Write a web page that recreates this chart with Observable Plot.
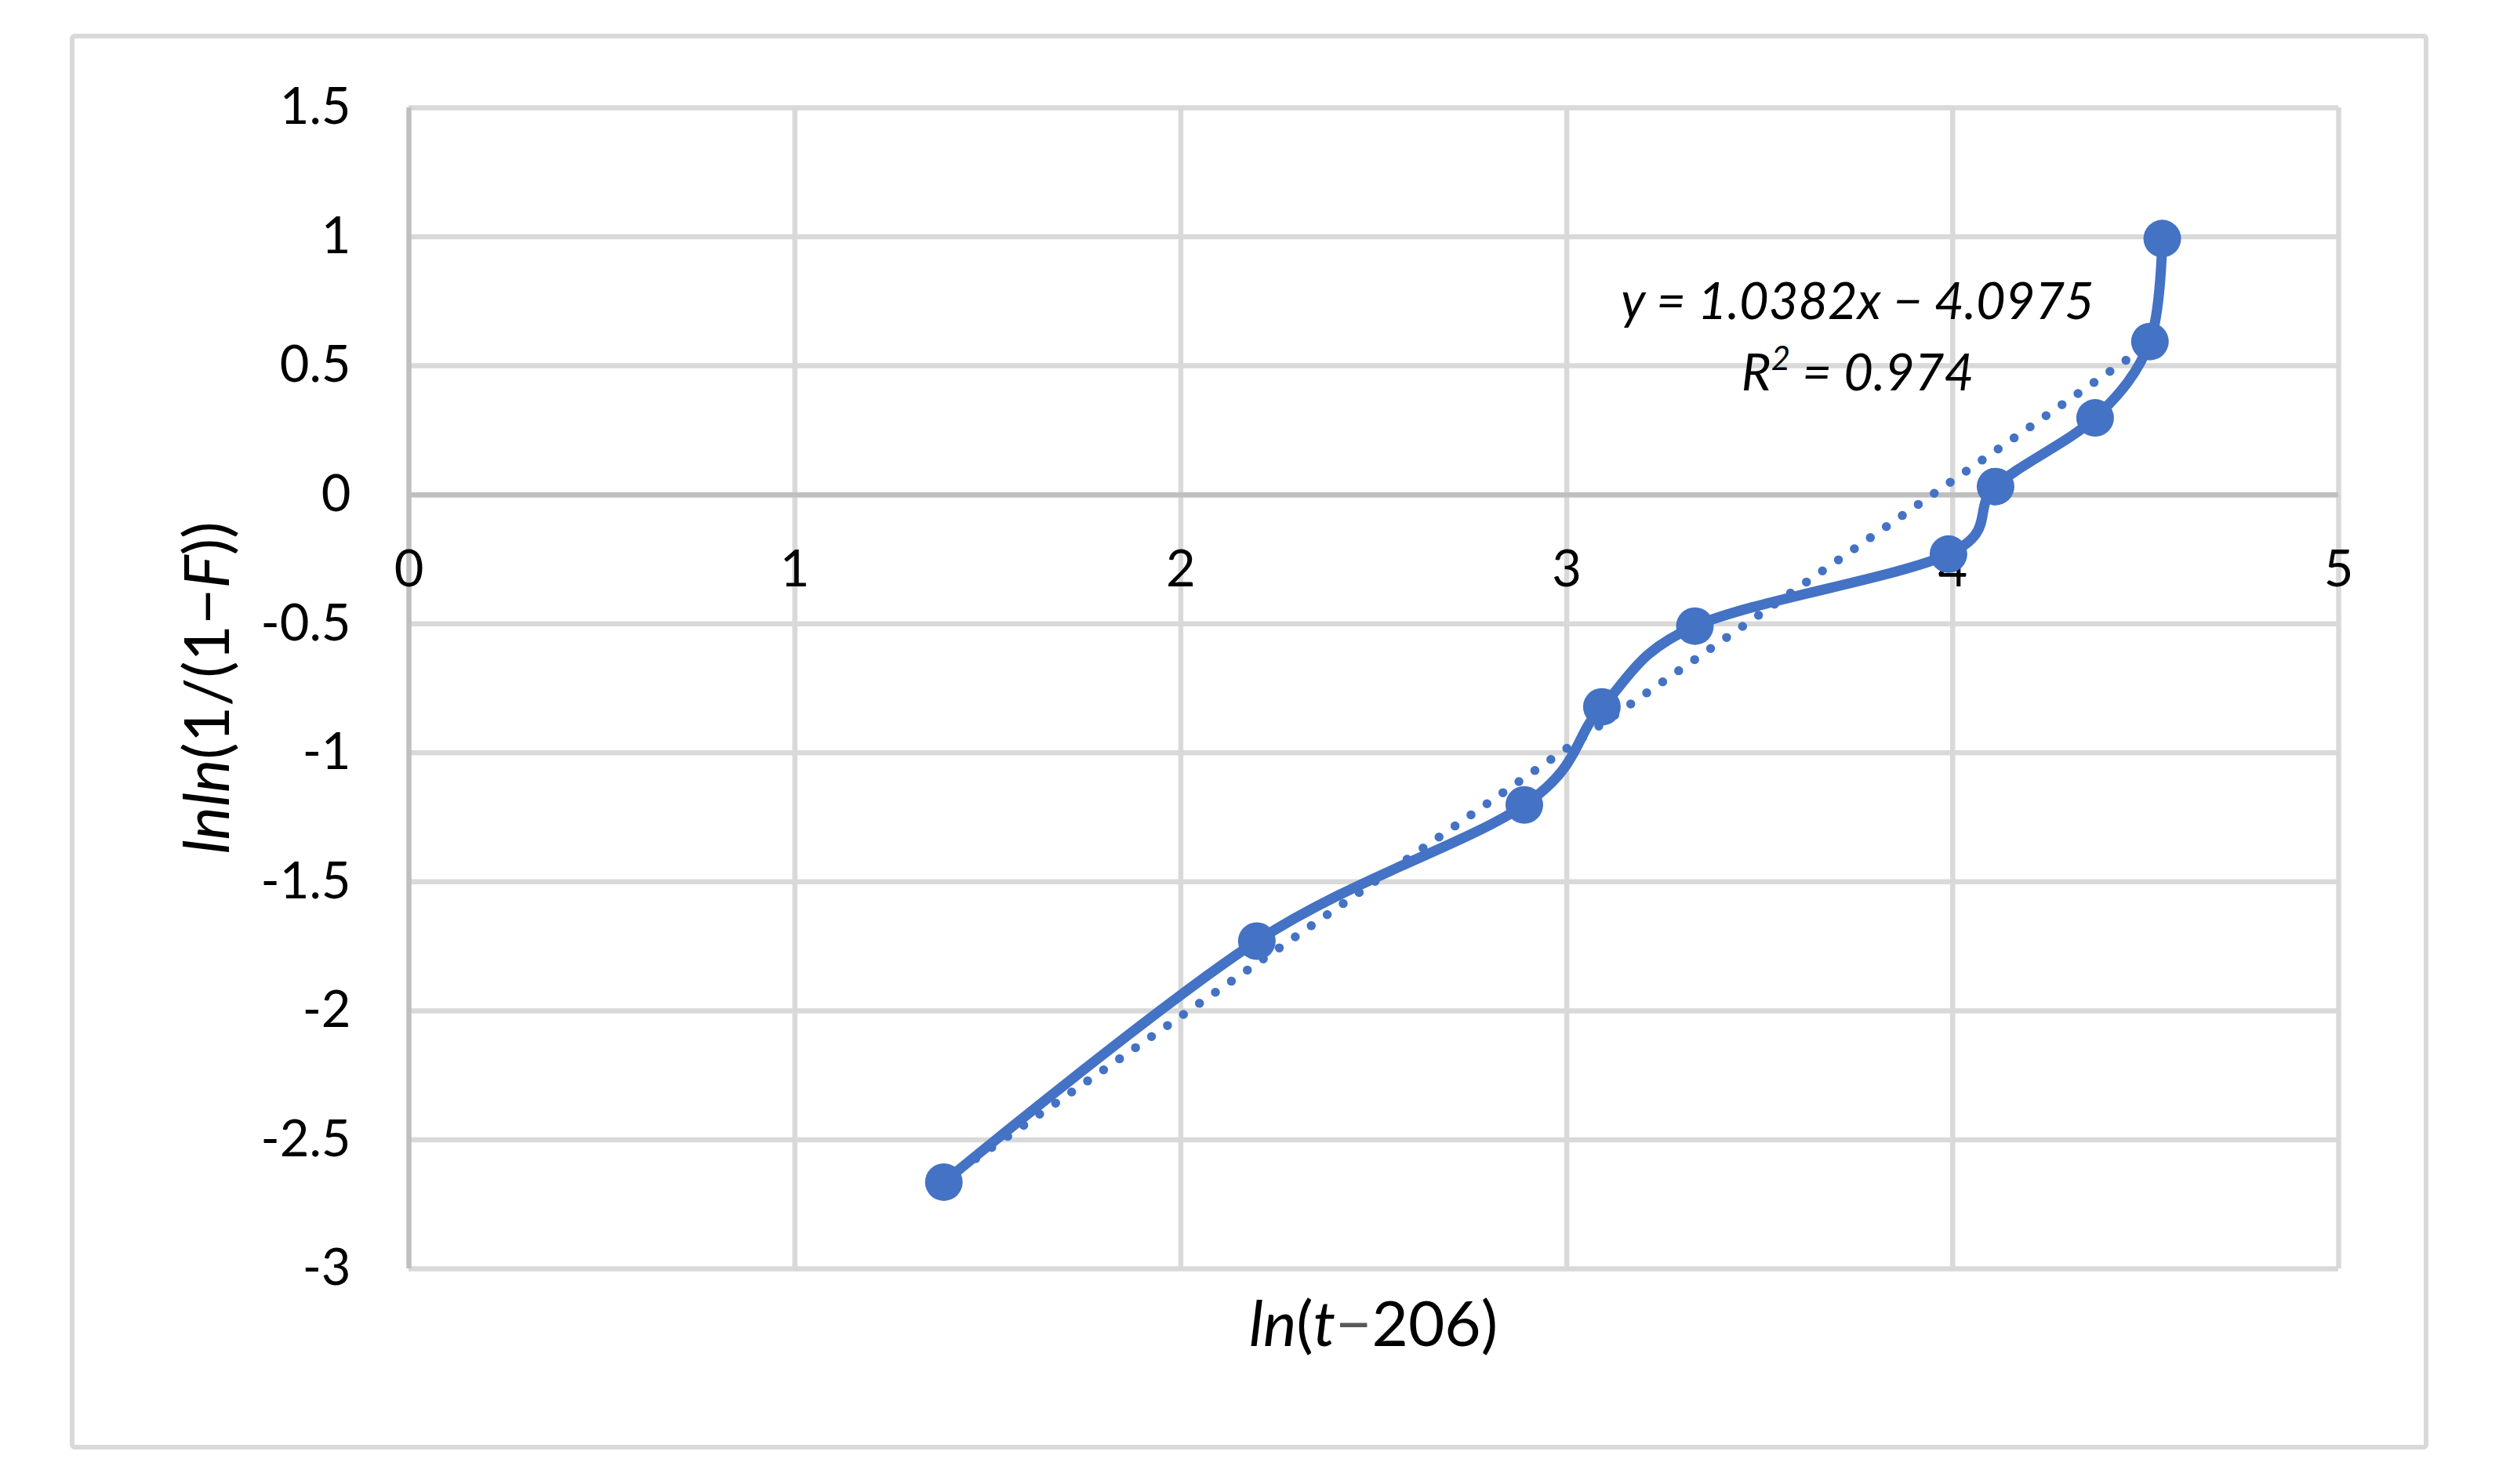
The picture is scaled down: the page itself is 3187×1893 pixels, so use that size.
<!DOCTYPE html>
<html><head><meta charset="utf-8">
<script src="https://cdn.jsdelivr.net/npm/d3@7"></script>
<script src="https://cdn.jsdelivr.net/npm/@observablehq/plot@0.6"></script>
<style>
html,body{margin:0;padding:0;background:#fff;}
#chart{position:relative;width:3187px;height:1893px;}
</style></head><body><div id="chart"></div>
<script>
// data
const lnT   = [1.386, 2.197, 2.890, 3.091, 3.332, 3.989, 4.111, 4.369, 4.511, 4.543];
const lnlnF = [-2.664, -1.73, -1.202, -0.822, -0.509, -0.23, 0.032, 0.298, 0.594, 0.993];
const xTicks = [0, 1, 2, 3, 4, 5];
const xTickLabels = ["0", "1", "2", "3", "4", "5"];
const yTicks = [1.5, 1, 0.5, 0, -0.5, -1, -1.5, -2, -2.5, -3];
const yTickLabels = ["1.5", "1", "0.5", "0", "-0.5", "-1", "-1.5", "-2", "-2.5", "-3"];
const trendSlope = 1.0382, trendIntercept = -4.0975;
const eqLabel = "y = 1.0382x − 4.0975";
const r2Value = "0.974";

const points = lnT.map((x, i) => ({x, y: lnlnF[i]}));
const trend = d3.extent(lnT).map(x => ({x, y: trendSlope * x + trendIntercept}));

const W = 3187, H = 1893;
const BLUE = "#4472C4", GRID = "#D9D9D9", AXIS = "#BFBFBF";
const FONT = "Lato, 'Open Sans', sans-serif";

const plot = Plot.plot({
  width: W, height: H,
  marginLeft: 521, marginRight: W - 2982, marginTop: 137, marginBottom: H - 1618,
  style: {fontFamily: FONT, fontSize: "65px", color: "#000", background: "#fff", overflow: "visible"},
  x: {domain: [0, 5], axis: null},
  y: {domain: [-3, 1.5], axis: null},
  marks: [
    Plot.gridX(xTicks.slice(1), {stroke: GRID, strokeOpacity: 1, strokeWidth: 6.5}),
    Plot.gridY(yTicks, {stroke: GRID, strokeOpacity: 1, strokeWidth: 6.5}),
    Plot.ruleY([0], {stroke: AXIS, strokeWidth: 6.5}),
    Plot.ruleX([0], {stroke: AXIS, strokeWidth: 6.5}),
    Plot.axisY(yTicks, {tickSize: 0, tickPadding: 74, fontSize: 65, label: null,
      tickFormat: d => yTickLabels[yTicks.indexOf(d)]}),
    Plot.text(xTicks, {x: d => d, y: d => 0, dy: 96, fontSize: 65, lineAnchor: "middle",
      text: d => xTickLabels[xTicks.indexOf(d)]}),
    Plot.line(trend, {x: "x", y: "y", stroke: BLUE, strokeWidth: 11.5,
      strokeDasharray: "0 24.8", strokeLinecap: "round"}),
    Plot.line(points, {x: "x", y: "y", curve: "cardinal", stroke: BLUE, strokeWidth: 13,
      strokeLinejoin: "round", strokeLinecap: "round"}),
    Plot.dot(points, {x: "x", y: "y", r: 24, fill: BLUE, stroke: "none"})
  ]
});

const svg = d3.select(plot);
// outer chart border
svg.insert("rect", ":first-child")
  .attr("x", 92).attr("y", 46).attr("width", 3094 - 92).attr("height", 1846 - 46)
  .attr("rx", 3).attr("fill", "none").attr("stroke", GRID).attr("stroke-width", 6);

const sx = plot.scale("x"), sy = plot.scale("y");
const xc = (sx.range[0] + sx.range[1]) / 2;
const yc = (sy.range[0] + sy.range[1]) / 2;

// x axis title: ln(t−206)
const xt = svg.append("text").attr("x", xc).attr("y", 1717)
  .attr("text-anchor", "middle").attr("font-size", 80).attr("fill", "#000");
xt.append("tspan").attr("font-style", "italic").text("ln");
xt.append("tspan").text("(");
xt.append("tspan").attr("font-style", "italic").text("t");
xt.append("tspan").attr("fill", "#595959").text("−");
xt.append("tspan").text("206)");

// y axis title: lnln(1/(1−F))
const yt = svg.append("text")
  .attr("transform", `translate(${292},${yc}) rotate(-90)`)
  .attr("text-anchor", "middle").attr("font-size", 80).attr("fill", "#000");
yt.append("tspan").attr("font-style", "italic").text("lnln");
yt.append("tspan").text("(1/(1−");
yt.append("tspan").attr("font-style", "italic").text("F");
yt.append("tspan").text("))");

// trendline label
const eq = svg.append("text").attr("text-anchor", "middle").attr("font-size", 65)
  .attr("font-style", "italic").attr("fill", "#000");
eq.append("tspan").attr("x", 2369).attr("y", 407).text(eqLabel);
const r2 = svg.append("text").attr("x", 2369).attr("y", 498).attr("text-anchor", "middle")
  .attr("font-size", 65).attr("font-style", "italic").attr("fill", "#000");
r2.append("tspan").text("R");
r2.append("tspan").attr("font-size", 42).attr("dy", -26).text("2");
r2.append("tspan").attr("dy", 26).text(" = " + r2Value);

document.getElementById("chart").appendChild(plot);
</script>
</body></html>
